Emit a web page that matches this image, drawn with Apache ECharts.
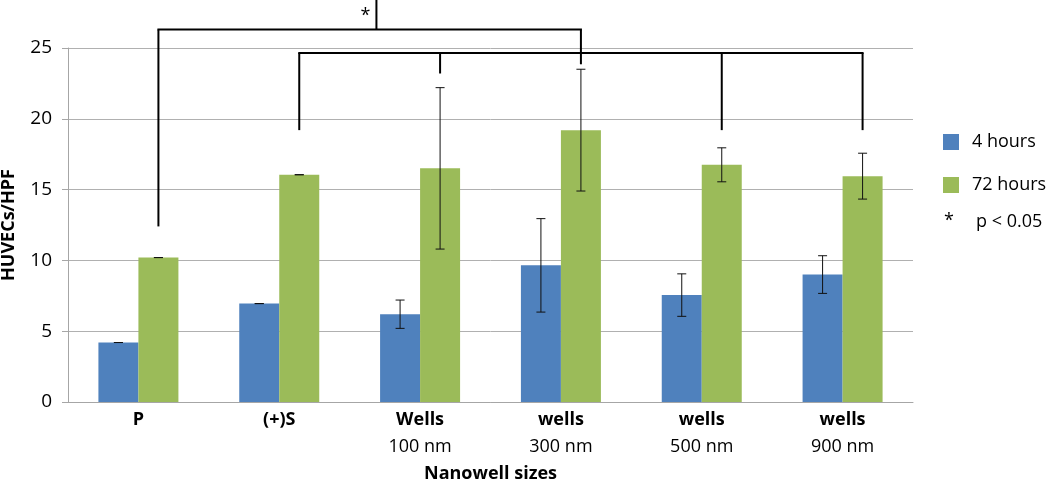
<!DOCTYPE html>
<html>
<head>
<meta charset="utf-8">
<script src="https://cdn.jsdelivr.net/npm/echarts@6/dist/echarts.min.js"></script>
<style>html,body{margin:0;padding:0;background:#fff}#c{width:1050px;height:481px}</style>
</head>
<body>
<div id="c"></div>
<script>
// ---- data ----
const catTop = ['P', '(+)S', 'Wells', 'wells', 'wells', 'wells'];
const catBottom = ['', '', '100 nm', '300 nm', '500 nm', '900 nm'];
const seriesNames = ['4 hours', '72 hours'];
const hours4 = [4.2, 6.95, 6.2, 9.65, 7.55, 9.0];
const hours4Err = [0, 0, 1.0, 3.3, 1.5, 1.33];
const hours72 = [10.2, 16.05, 16.5, 19.2, 16.75, 15.95];
const hours72Err = [0, 0, 5.7, 4.3, 1.2, 1.62];
const yTicks = [0, 5, 10, 15, 20, 25];
// significance brackets: level (y value), legs [category index of 72h bar, bottom y value]
const brackets = [
  { level: 26.3, tickAt: 1.69, tickTop: 28.6, star: true, legs: [[0, 12.4], [3, 23.85]] },
  { level: 24.65, legs: [[1, 19.2], [2, 23.2], [4, 19.2], [5, 19.2]] }
];
const sigLabel = 'p < 0.05';

const categories = catTop.map((t, i) => catBottom[i] ? t + '\n' + catBottom[i] : t);

const FONT = 'Open Sans';
const BAR_W = 40;
const COLORS = ['#4f81bd', '#9bbb59'];

function errorSeries(means, errs, side) {
  return {
    type: 'custom',
    silent: true,
    z: 5,
    data: means.map((m, i) => [i, m, errs[i]]),
    encode: { x: 0, y: 1 },
    renderItem: function (params, api) {
      const i = api.value(0), m = api.value(1), e = api.value(2);
      const x = api.coord([i, m])[0] + side * BAR_W / 2;
      const yT = api.coord([i, m + e])[1];
      const yB = api.coord([i, m - e])[1];
      const cap = 4.5;
      const st = { stroke: '#111', lineWidth: 1 };
      return {
        type: 'group',
        children: [
          { type: 'line', shape: { x1: x, y1: yT, x2: x, y2: yB }, style: st },
          { type: 'line', shape: { x1: x - cap, y1: yT, x2: x + cap, y2: yT }, style: st },
          { type: 'line', shape: { x1: x - cap, y1: yB, x2: x + cap, y2: yB }, style: st }
        ]
      };
    }
  };
}

const chart = echarts.init(document.getElementById('c'));
chart.setOption({
  animation: false,
  textStyle: { fontFamily: FONT },
  grid: { left: 68, right: 137, top: 48, bottom: 79, containLabel: false, outerBoundsMode: 'none' },
  legend: {
    data: seriesNames,
    orient: 'vertical',
    left: 943, top: 133,
    itemWidth: 16, itemHeight: 16, itemGap: 25,
    padding: 0,
    icon: 'rect',
    textStyle: { fontFamily: FONT, fontSize: 18, color: '#000', padding: [0, 0, 0, 8] }
  },
  xAxis: {
    type: 'category',
    data: categories,
    axisLine: { lineStyle: { color: '#a6a6a6', width: 1 } },
    axisTick: { show: false },
    name: 'Nanowell sizes',
    nameLocation: 'middle',
    nameGap: 63,
    nameTextStyle: { fontFamily: FONT, fontSize: 18, fontWeight: 'bold', color: '#000' },
    axisLabel: {
      interval: 0,
      margin: 4,
      formatter: function (v) {
        const p = v.split('\n');
        return '{b|' + p[0] + '}' + (p[1] ? '\n{r|' + p[1] + '}' : '');
      },
      rich: {
        b: { fontFamily: FONT, fontSize: 18, fontWeight: 'bold', color: '#000', lineHeight: 27 },
        r: { fontFamily: FONT, fontSize: 18, color: '#000', lineHeight: 27 }
      }
    }
  },
  yAxis: {
    type: 'value',
    min: yTicks[0], max: yTicks[yTicks.length - 1], interval: 5,
    name: 'HUVECs/HPF',
    nameLocation: 'middle',
    nameGap: 50,
    nameTextStyle: { fontFamily: FONT, fontSize: 18, fontWeight: 'bold', color: '#000' },
    axisLine: { show: true, lineStyle: { color: '#a6a6a6' } },
    axisTick: { show: true, length: 6, lineStyle: { color: '#a6a6a6' } },
    splitLine: { lineStyle: { color: '#b0b0b0' } },
    axisLabel: { fontFamily: FONT, fontSize: 19, color: '#000', margin: 16 }
  },
  series: [
    { name: seriesNames[0], type: 'bar', data: hours4, barWidth: BAR_W, barGap: '0%', itemStyle: { color: COLORS[0] } },
    { name: seriesNames[1], type: 'bar', data: hours72, barWidth: BAR_W, barGap: '0%', itemStyle: { color: COLORS[1] } },
    errorSeries(hours4, hours4Err, -1),
    errorSeries(hours72, hours72Err, 1),
    {
      type: 'custom',
      silent: true,
      clip: false,
      z: 10,
      data: brackets.map((b, k) => [k, 0]),
      encode: { x: 0, y: 1 },
      renderItem: function (params, api) {
        const b = brackets[api.value(0)];
        const x0 = api.coord([0, 0])[0];
        const band = api.size([1, 0])[0];
        const cx = c => x0 + c * band;
        const st = { stroke: '#000', lineWidth: 2 };
        const yL = api.coord([0, b.level])[1];
        const xs = b.legs.map(l => cx(l[0]) + BAR_W / 2);
        const children = [
          { type: 'line', shape: { x1: Math.min(...xs) - 1, y1: yL, x2: Math.max(...xs) + 1, y2: yL }, style: st }
        ];
        b.legs.forEach((l, j) => {
          children.push({ type: 'line', shape: { x1: xs[j], y1: yL, x2: xs[j], y2: api.coord([0, l[1]])[1] }, style: st });
        });
        if (b.tickAt != null) {
          const tx = cx(b.tickAt);
          const tt = api.coord([0, b.tickTop])[1];
          children.push({ type: 'line', shape: { x1: tx, y1: yL, x2: tx, y2: tt }, style: st });
          if (b.star) {
            children.push({ type: 'text', style: { text: '*', x: tx - 6, y: yL - 5, align: 'right', verticalAlign: 'bottom', fontFamily: FONT, fontSize: 18, fill: '#000' } });
          }
        }
        return { type: 'group', children: children };
      }
    }
  ],
  graphic: [
    { type: 'text', left: 944, top: 212, style: { text: '*', fontFamily: FONT, fontSize: 18, fill: '#000' } },
    { type: 'text', left: 976, top: 213, style: { text: sigLabel, fontFamily: FONT, fontSize: 18, fill: '#000' } }
  ]
});
</script>
</body>
</html>
